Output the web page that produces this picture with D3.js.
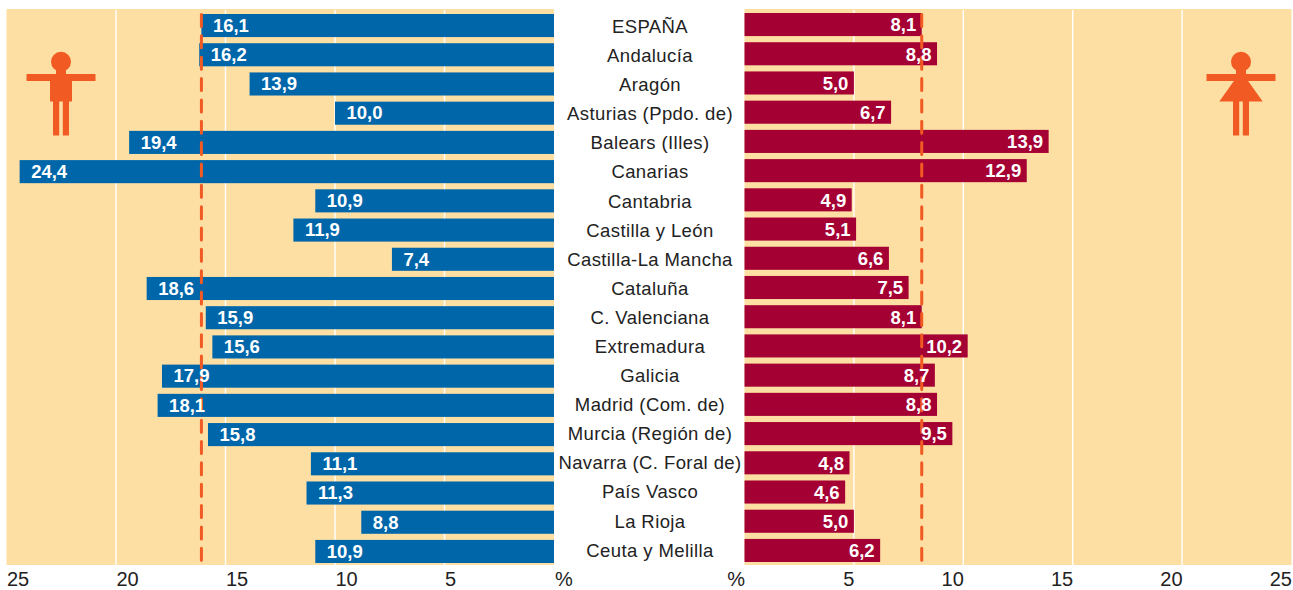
<!DOCTYPE html>
<html><head><meta charset="utf-8">
<script src="https://cdn.jsdelivr.net/npm/d3@7"></script>
<style>
html,body{margin:0;padding:0;background:#fff}
svg{display:block}
text{font-family:"Liberation Sans",Roboto,sans-serif}
</style></head><body>
<svg id="c" width="1293" height="590"></svg>
<script>
const categories=["ESPAÑA","Andalucía","Aragón","Asturias (Ppdo. de)","Balears (Illes)","Canarias","Cantabria","Castilla y León","Castilla-La Mancha","Cataluña","C. Valenciana","Extremadura","Galicia","Madrid (Com. de)","Murcia (Región de)","Navarra (C. Foral de)","País Vasco","La Rioja","Ceuta y Melilla"];
const hombres=[16.1,16.2,13.9,10.0,19.4,24.4,10.9,11.9,7.4,18.6,15.9,15.6,17.9,18.1,15.8,11.1,11.3,8.8,10.9];
const mujeres=[8.1,8.8,5.0,6.7,13.9,12.9,4.9,5.1,6.6,7.5,8.1,10.2,8.7,8.8,9.5,4.8,4.6,5.0,6.2];
const tickValues=[5,10,15,20,25];
const refHombres=16.1, refMujeres=8.1;
const fmt=v=>v.toFixed(1).replace(".",",");

const svg=d3.select("#c");
const xL=d3.scaleLinear().domain([0,25]).range([554,6.5]);
const xR=d3.scaleLinear().domain([0,25]).range([744.5,1291.5]);
const yL=d3.scaleBand().domain(categories).range([14,563]).paddingInner(0.21).paddingOuter(0);
const yR=d3.scaleBand().domain(categories).range([13,562]).paddingInner(0.21).paddingOuter(0);
const yLabel=d3.scalePoint().domain(categories).range([33,556.6]);
const C={bg:"#fddfa3",blue:"#0066aa",red:"#a50034",orange:"#f15a22",text:"#222"};
const pTop=9,pBot=565;

function panel(x,y,color,vals,ref,side){
  const g=svg.append("g");
  const [a,b]=d3.extent(x.range());
  g.append("rect").attr("x",a).attr("y",pTop).attr("width",b-a).attr("height",pBot-pTop).attr("fill",C.bg);
  g.selectAll("line.grid").data(tickValues.slice(0,4)).join("line").attr("class","grid")
    .attr("x1",d=>x(d)).attr("x2",d=>x(d)).attr("y1",pTop+1).attr("y2",pBot)
    .attr("stroke","#fff").attr("stroke-width",1.4);
  g.selectAll("rect.bar").data(vals).join("rect").attr("class","bar")
    .attr("x",d=>Math.min(x(0),x(d))).attr("width",d=>Math.abs(x(d)-x(0)))
    .attr("y",(d,i)=>y(categories[i])).attr("height",y.bandwidth()).attr("fill",color);
  g.append("line").attr("x1",x(ref)).attr("x2",x(ref)).attr("y1",14.5).attr("y2",560.5)
    .attr("stroke",C.orange).attr("stroke-width",3).attr("stroke-linecap","round").attr("stroke-dasharray","12 9.35");
  g.selectAll("text.val").data(vals).join("text").attr("class","val")
    .attr("x",d=>side<0?x(d)+11.5:x(d)-5.5)
    .attr("y",(d,i)=>y(categories[i])+y.bandwidth()/2+(side<0?6.3:6.8))
    .attr("text-anchor",side<0?"start":"end")
    .attr("font-size",18.5).attr("font-weight",700).attr("fill","#fff").text(fmt);
}
panel(xL,yL,C.blue,hombres,refHombres,-1);
panel(xR,yR,C.red,mujeres,refMujeres,1);

svg.append("g").selectAll("text").data(categories).join("text")
  .attr("x",650).attr("y",d=>yLabel(d))
  .attr("text-anchor","middle").attr("font-size",18.5).attr("letter-spacing",0.4).attr("fill",C.text).text(d=>d);

function axis(x,anchor,pctX,pctAnchor){
  const g=svg.append("g").attr("transform","translate(0,566)")
    .call(d3.axisBottom(x).tickValues(tickValues).tickSize(0).tickPadding(5.5).tickFormat(d3.format("d")));
  g.select(".domain").remove();
  g.selectAll("text").attr("text-anchor",anchor).attr("font-size",20).attr("fill",C.text);
  g.append("text").attr("x",pctX).attr("y",19.7).attr("text-anchor",pctAnchor).attr("font-size",20)
    .attr("fill",C.text).text("%");
}
axis(xL,"start",555,"start");
axis(xR,"end",745,"end");

function figure(cx,skirt){
  const g=svg.append("g").attr("fill",C.orange).attr("transform",`translate(${cx},0)`);
  g.append("circle").attr("cx",0).attr("cy",61.7).attr("r",10);
  g.append("rect").attr("x",-34.5).attr("y",74).attr("width",69).attr("height",7);
  g.append("rect").attr("x",-5).attr("y",70).attr("width",10).attr("height",8);
  g.append("rect").attr("x",-8).attr("y",101).attr("width",6.2).attr("height",34.5);
  g.append("rect").attr("x",1.8).attr("y",101).attr("width",6.2).attr("height",34.5);
  if(skirt) g.append("path").attr("d",d3.line()([[-5,78],[5,78],[21.7,101.5],[-21.7,101.5]]));
  else g.append("rect").attr("x",-11).attr("y",78).attr("width",22).attr("height",23.5);
}
figure(61,false);
figure(1241,true);
</script>
</body></html>
